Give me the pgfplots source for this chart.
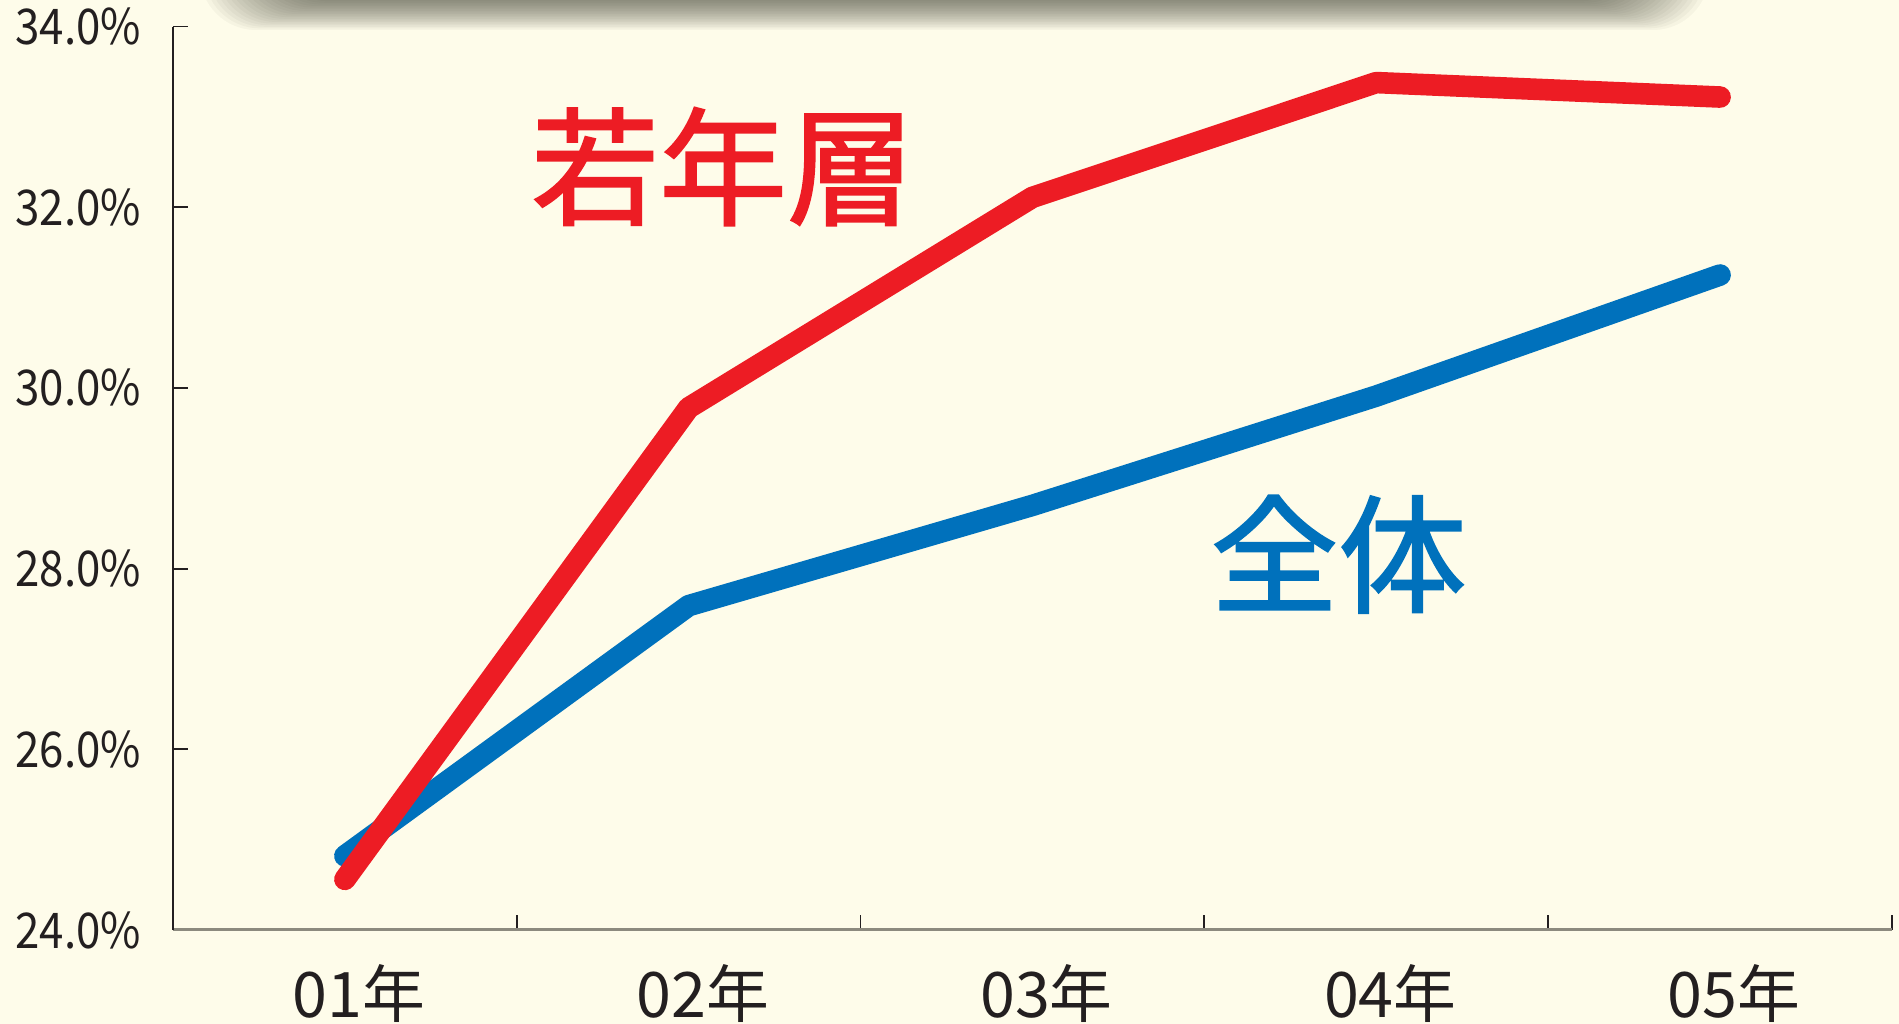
\documentclass[border=0pt]{standalone}
\usepackage{fontspec}
\usepackage{graphicx}
\usepackage{pgfplots}
\pgfplotsset{compat=1.18}
\setmainfont{Noto Sans CJK JP}
\newfontfamily\cjk[FakeBold=1.5]{Noto Sans CJK JP}
\definecolor{bg}{RGB}{254,252,234}
\definecolor{jred}{RGB}{237,28,36}
\definecolor{jblue}{RGB}{0,113,188}
\definecolor{txt}{RGB}{35,31,32}
\definecolor{xaxis}{RGB}{140,138,126}
\definecolor{shadowc}{RGB}{55,55,40}
\begin{document}
\begin{tikzpicture}
\path[use as bounding box] (-43.25pt,-23.5pt) rectangle (431.5pt,232.5pt);
\fill[bg] (-43.25pt,-23.5pt) rectangle (431.5pt,232.5pt);
\begin{scope}
\clip (-43.25pt,-23.5pt) rectangle (431.5pt,232.5pt);
\foreach \i in {0,...,19} {
  \fill[shadowc, opacity=0.04, rounded corners=14pt] ({6.75pt+\i*1pt},{225pt+\i*0.4pt}) rectangle ({384pt-\i*1pt},290pt);
}
\end{scope}
\begin{axis}[
  at={(0,0)}, anchor=south west,
  scale only axis, width=429.75pt, height=225.85pt,
  xmin=-0.5, xmax=4.5, ymin=24, ymax=34,
  axis lines=left,
  axis line style={-},
  x axis line style={draw=xaxis, line width=0.75pt},
  y axis line style={draw=txt, line width=0.5pt},
  tick align=inside,
  major tick length=3.75pt,
  tick style={draw=txt, line width=0.45pt},
  xtick={-0.5,0.5,1.5,2.5,3.5,4.5},
  xticklabels={},
  extra x ticks={0,1,2,3,4},
  extra x tick labels={01年,02年,03年,04年,05年},
  extra x tick style={major tick length=0pt},
  ytick={24,26,28,30,32,34},
  /pgf/number format/assume math mode=true,
  yticklabel={\scalebox{0.89}[1]{\pgfmathprintnumber[fixed,fixed zerofill,precision=1]{\tick}\%}},
  yticklabel style={anchor=east, inner sep=0pt, xshift=-7.8pt, font=\fontsize{12.3}{14}\selectfont, text=txt},
  xticklabel style={anchor=north, inner sep=0pt, yshift=-8.5pt, xshift=3.5pt, font=\fontsize{15.7}{18}\selectfont, text=txt},
  clip=false,
]
\addplot[jblue, line width=5.4pt, line cap=round, line join=round] coordinates {(0,24.82) (1,27.59) (2,28.70) (3,29.91) (4,31.25)};
\addplot[jred, line width=5.4pt, line cap=round, line join=round] coordinates {(0,24.56) (1,29.78) (2,32.11) (3,33.38) (4,33.22)};
\node[text=jred, font=\cjk\fontsize{32}{36}\selectfont] at (axis cs:1.10,32.45) {若年層};
\node[text=jblue, font=\cjk\fontsize{32}{36}\selectfont] at (axis cs:2.89,28.16) {全体};
\end{axis}
\end{tikzpicture}
\end{document}
